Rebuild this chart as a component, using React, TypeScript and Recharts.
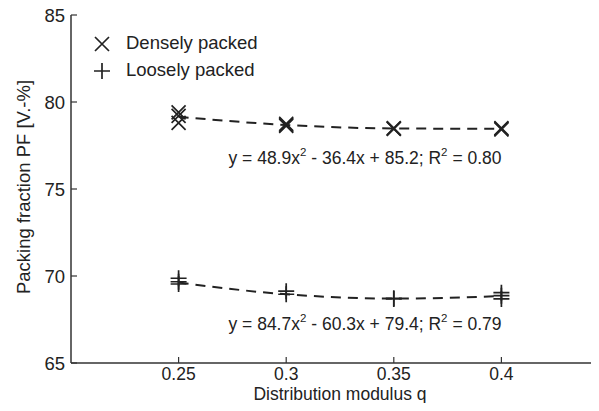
import { ComposedChart, Scatter, Line, XAxis, YAxis, Legend } from 'recharts';

// distribution modulus q and packing fraction PF [V.-%]
const qTicks = [0.25, 0.3, 0.35, 0.4];
const pfTicks = [65, 70, 75, 80, 85];

const denseQ = [0.25, 0.25, 0.25, 0.3, 0.3, 0.3, 0.35, 0.35, 0.35, 0.4, 0.4, 0.4];
const densePF = [79.4, 79.2, 78.8, 78.75, 78.68, 78.62, 78.5, 78.47, 78.45, 78.5, 78.45, 78.42];

const looseQ = [0.25, 0.25, 0.25, 0.3, 0.3, 0.35, 0.35, 0.4, 0.4, 0.4];
const loosePF = [69.87, 69.67, 69.54, 69.13, 68.95, 68.72, 68.68, 69.04, 68.87, 68.68];

const fitQ = [0.25, 0.3, 0.35, 0.4];
const denseFit = [79.15, 78.68, 78.48, 78.46];
const looseFit = [69.62, 68.95, 68.7, 68.85];

const seriesNames = ['Densely packed', 'Loosely packed'];

const denseData = denseQ.map((q, i) => ({ q, pf: densePF[i] }));
const looseData = looseQ.map((q, i) => ({ q, pf: loosePF[i] }));
const denseFitData = fitQ.map((q, i) => ({ q, fit: denseFit[i] }));
const looseFitData = fitQ.map((q, i) => ({ q, fit: looseFit[i] }));

const FONT = '"Liberation Sans", Arial, Helvetica, sans-serif';
const FS = 18.5;
const INK = '#222';
const AXIS = '#333';

const Cross = ({ cx, cy }: any) => (
  <path d={`M${cx - 7},${cy - 7}L${cx + 7},${cy + 7}M${cx - 7},${cy + 7}L${cx + 7},${cy - 7}`} stroke={INK} strokeWidth={1.7} fill="none" />
);

const Plus = ({ cx, cy }: any) => (
  <path d={`M${cx - 8},${cy}L${cx + 8},${cy}M${cx},${cy - 8}L${cx},${cy + 8}`} stroke={INK} strokeWidth={1.7} fill="none" />
);

const BottomTick = ({ x, y, payload }: any) => (
  <g>
    <line x1={x} y1={y} x2={x} y2={y - 6} stroke={AXIS} strokeWidth={1.2} />
    <text x={x} y={y + 16.5} textAnchor="middle" fontSize={17.5} fill={INK} fontFamily={FONT}>{payload.value}</text>
  </g>
);

const TopTick = ({ x, y }: any) => (
  <line x1={x} y1={y} x2={x} y2={y + 6} stroke={AXIS} strokeWidth={1.2} />
);

const LeftTick = ({ x, y, payload }: any) => (
  <g>
    <line x1={x} y1={y} x2={x + 6} y2={y} stroke={AXIS} strokeWidth={1.2} />
    <text x={x - 6} y={y + 6.5} textAnchor="end" fontSize={FS} fill={INK} fontFamily={FONT}>{payload.value}</text>
  </g>
);

const LegendBox = () => (
  <div style={{ fontFamily: FONT, fontSize: FS, color: INK, lineHeight: 1 }}>
    {seriesNames.map((name, i) => (
      <div key={name} style={{ display: 'flex', alignItems: 'center', height: 27 }}>
        <svg width={24} height={20} style={{ marginRight: 10 }}>
          {i === 0 ? <Cross cx={10} cy={10} /> : <Plus cx={10} cy={10} />}
        </svg>
        <span>{name}</span>
      </div>
    ))}
  </div>
);

const Equation = ({ x, y, a, b, c, r2 }: any) => (
  <text x={x} y={y} textAnchor="middle" fontSize={17.5} fill={INK} fontFamily={FONT}>
    <tspan>{`y = ${a}x`}</tspan>
    <tspan fontSize={11.5} dy={-8}>2</tspan>
    <tspan dy={8}>{` - ${b}x + ${c}; R`}</tspan>
    <tspan fontSize={11.5} dy={-8}>2</tspan>
    <tspan dy={8}>{` = ${r2}`}</tspan>
  </text>
);

export default function App() {
  return (
    <div style={{ margin: -8, width: 599, height: 411, overflow: 'hidden', background: '#fff', position: 'relative' }}>
      <ComposedChart width={625} height={411} margin={{ top: 15, right: 16, bottom: 0, left: 0 }}>
        <XAxis
          xAxisId="b"
          dataKey="q"
          type="number"
          domain={[0.2, 0.45]}
          ticks={qTicks}
          tick={<BottomTick />}
          tickLine={false}
          tickSize={0}
          tickMargin={0}
          height={48}
          stroke={AXIS}
          strokeWidth={1.5}
          allowDataOverflow
        />
        <XAxis
          xAxisId="t"
          orientation="top"
          dataKey="q"
          type="number"
          domain={[0.2, 0.45]}
          ticks={qTicks}
          tick={<TopTick />}
          tickLine={false}
          tickSize={0}
          tickMargin={0}
          height={0}
          stroke={AXIS}
          strokeWidth={1.5}
          allowDataOverflow
        />
        <YAxis
          dataKey="pf"
          type="number"
          domain={[65, 85]}
          ticks={pfTicks}
          tick={<LeftTick />}
          tickLine={false}
          tickSize={0}
          tickMargin={0}
          width={71}
          stroke={AXIS}
          strokeWidth={1.5}
          allowDataOverflow
        />
        <Legend
          layout="horizontal"
          verticalAlign="middle"
          align="center"
          content={<LegendBox />}
          wrapperStyle={{ position: 'absolute', left: 92, top: 30, width: 'auto', height: 'auto' }}
        />
        <Line xAxisId="b" data={denseFitData} dataKey="fit" type="monotone" stroke={INK} strokeWidth={2} strokeDasharray="10 7" dot={false} isAnimationActive={false} legendType="none" />
        <Line xAxisId="b" data={looseFitData} dataKey="fit" type="monotone" stroke={INK} strokeWidth={2} strokeDasharray="10 7" dot={false} isAnimationActive={false} legendType="none" />
        <Scatter xAxisId="b" name={seriesNames[0]} data={denseData} dataKey="pf" shape={<Cross />} isAnimationActive={false} />
        <Scatter xAxisId="b" name={seriesNames[1]} data={looseData} dataKey="pf" shape={<Plus />} isAnimationActive={false} />
        <Equation x={365} y={164} a={48.9} b={36.4} c={85.2} r2="0.80" />
        <Equation x={365} y={330} a={84.7} b={60.3} c={79.4} r2="0.79" />
        <text x={340} y={399.5} textAnchor="middle" fontSize={17.5} fill={INK} fontFamily={FONT}>Distribution modulus q</text>
        <text x={30} y={187} transform="rotate(-90 30 187)" textAnchor="middle" fontSize={FS} fill={INK} fontFamily={FONT}>Packing fraction PF [V.-%]</text>
      </ComposedChart>
    </div>
  );
}
